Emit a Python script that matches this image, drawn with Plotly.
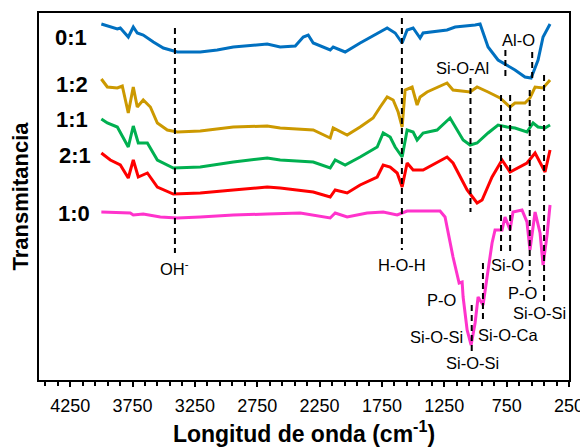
import plotly.graph_objects as go

# ---- data (wavenumber in cm-1, transmittance in arbitrary units, offset per series) ----
wn_01 = [4000, 3928, 3872, 3848, 3784, 3744, 3712, 3664, 3631, 3583, 3503, 3391, 3207, 3071, 2942,
         2670, 2566, 2445, 2381, 2341, 2301, 2165, 2141, 2045, 1925, 1764, 1708, 1644, 1588, 1548,
         1500, 1444, 1420, 1228, 1163, 1003, 963, 899, 819, 683, 603, 554, 498, 458, 402]
t_01 = [356, 353, 351, 352, 343, 353, 347, 345, 342, 338, 332, 328, 328, 330, 333,
        336, 333, 334, 343, 345, 337, 330, 333, 328, 337, 348, 352, 347, 337, 350,
        352, 342, 347, 350, 353, 355, 356, 333, 320, 310, 303, 302, 320, 343, 356]

wn_12 = [4000, 3952, 3872, 3832, 3784, 3744, 3712, 3664, 3607, 3551, 3471, 3391, 3207, 2942, 2670,
         2566, 2301, 2165, 2141, 2029, 1925, 1821, 1764, 1708, 1660, 1620, 1588, 1564, 1508, 1468,
         1444, 1388, 1228, 1180, 1043, 987, 899, 803, 723, 683, 603, 563, 522, 458, 402]
t_12 = [301, 293, 292, 294, 267, 293, 273, 280, 273, 257, 250, 248, 249, 253, 254,
        252, 250, 242, 252, 245, 253, 262, 273, 283, 280, 268, 253, 290, 293, 275,
        283, 288, 297, 290, 288, 293, 288, 282, 273, 277, 277, 282, 293, 292, 300]

wn_11 = [4000, 3952, 3872, 3784, 3744, 3704, 3631, 3551, 3423, 3207, 2942, 2670, 2566, 2301, 2165,
         2125, 2045, 1925, 1788, 1740, 1684, 1644, 1588, 1548, 1500, 1468, 1420, 1308, 1204, 1099,
         1043, 987, 899, 819, 747, 683, 587, 538, 498, 442, 402]
t_11 = [261, 257, 253, 233, 254, 237, 237, 220, 212, 213, 218, 222, 220, 218, 212,
        220, 215, 223, 233, 247, 243, 233, 223, 250, 248, 240, 247, 250, 262, 240,
        235, 237, 247, 255, 253, 252, 248, 257, 253, 252, 255]

wn_21 = [4000, 3928, 3848, 3784, 3744, 3704, 3631, 3551, 3423, 3207, 2942, 2670, 2566, 2301, 2165,
         2125, 2029, 1925, 1788, 1740, 1684, 1628, 1588, 1548, 1500, 1420, 1228, 1180, 1067, 987,
         947, 867, 787, 723, 587, 522, 442, 402]
t_21 = [227, 220, 215, 202, 220, 203, 207, 193, 186, 187, 190, 193, 192, 188, 183,
        190, 187, 195, 203, 215, 213, 207, 193, 217, 210, 210, 223, 217, 190, 177,
        180, 203, 220, 208, 217, 227, 208, 230]

wn_10 = [4000, 3768, 3744, 3664, 3527, 3391, 3207, 2942, 2670, 2405, 2165, 2125, 2029, 1869, 1740,
         1628, 1548, 1284, 1244, 1180, 1131, 1107, 1099, 1067, 1035, 1003, 979, 939, 907, 867,
         843, 787, 763, 723, 699, 627, 587, 563, 522, 482, 458, 426, 402]
t_10 = [168, 167, 165, 166, 163, 162, 163, 165, 166, 167, 162, 167, 163, 167, 168,
        165, 169, 169, 163, 123, 97, 98, 83, 50, 35, 57, 83, 75, 103, 137,
        150, 150, 163, 150, 168, 170, 158, 130, 168, 147, 115, 145, 175]

series_names = ["0:1", "1:2", "1:1", "2:1", "1:0"]
series_colors = ["#0070C0", "#CC9900", "#00B050", "#FF0000", "#FF33CC"]

# band assignments: wavenumber and vertical extent (a.u.) of the dashed marker lines
band_wn = [3410, 1590, 1040, 1030, 940, 795, 722, 760, 545, 565, 450]
band_top = [352, 362, 302, 75, 117, 285, 285, 330, 328, 290, 305]
band_bottom = [127, 130, 168, 27, 57, 127, 127, 302, 300, 98, 78]

xtick_vals = [4250, 3750, 3250, 2750, 2250, 1750, 1250, 750, 250]

fig = go.Figure()

for wn, t, name, col in zip([wn_01, wn_12, wn_11, wn_21, wn_10],
                            [t_01, t_12, t_11, t_21, t_10],
                            series_names, series_colors):
    fig.add_trace(go.Scatter(x=wn, y=t, mode="lines", name=name,
                             line=dict(color=col, width=3), showlegend=False))

for w, a, b in zip(band_wn, band_top, band_bottom):
    fig.add_trace(go.Scatter(x=[w, w], y=[a, b], mode="lines", showlegend=False,
                             line=dict(color="black", width=2, dash="6px,4px")))

FONT = "Liberation Sans"

# series labels
label_pos = [(4245, 343), (4232, 296), (4235, 261), (4208, 225), (4216, 167)]
for name, (x, y) in zip(series_names, label_pos):
    fig.add_annotation(x=x, y=y, text="<b>%s</b>" % name, showarrow=False,
                       font=dict(family=FONT, size=22, color="black"))

band_labels = [
    ("OH<sup>-</sup>", 3415, 112),
    ("H-O-H", 1588, 115),
    ("Si-O-Al", 1107, 312),
    ("Al-O", 651, 340),
    ("Si-O", 747, 115),
    ("P-O", 1268, 80),
    ("P-O", 619, 87),
    ("Si-O-Si", 490, 67),
    ("Si-O-Si", 1316, 43),
    ("Si-O-Ca", 739, 45),
    ("Si-O-Si", 1027, 17),
]
for txt, x, y in band_labels:
    fig.add_annotation(x=x, y=y, text=txt, showarrow=False,
                       font=dict(family=FONT, size=16.5, color="black"))

fig.update_layout(
    width=580, height=439,
    margin=dict(l=31, r=19, t=5, b=67, autoexpand=False),
    paper_bgcolor="white", plot_bgcolor="white",
    font=dict(family=FONT, color="black"),
    xaxis=dict(
        range=[4500, 250], tickvals=xtick_vals, ticktext=[str(v) for v in xtick_vals],
        ticks="outside", ticklen=5, tickwidth=2, tickcolor="black",
        minor=dict(dtick=100, tick0=250, ticks="outside", ticklen=4, tickwidth=1.5, tickcolor="black"),
        showline=True, linecolor="black", linewidth=2, mirror=True,
        showgrid=False, zeroline=False, automargin=False,
        tickfont=dict(family=FONT, size=18, color="black"),
        ticklabelstandoff=3,
        title=dict(text="<b>Longitud de onda (cm<sup>-1</sup>)</b>",
                   font=dict(family=FONT, size=23, color="black"), standoff=15),
    ),
    xaxis2=dict(
        range=[4500, 250], overlaying="x", anchor="y", side="bottom",
        tickvals=xtick_vals, showticklabels=False, automargin=False,
        ticks="inside", ticklen=7, tickwidth=2, tickcolor="black",
        showline=False, showgrid=False, zeroline=False,
    ),
    yaxis=dict(
        range=[0, 367], showticklabels=False, ticks="",
        showline=True, linecolor="black", linewidth=2, mirror=True,
        showgrid=False, zeroline=False, automargin=False,
        title=dict(text="<b>Transmitancia</b>",
                   font=dict(family=FONT, size=22, color="black"), standoff=4),
    ),
)

fig.write_html("out.html")
